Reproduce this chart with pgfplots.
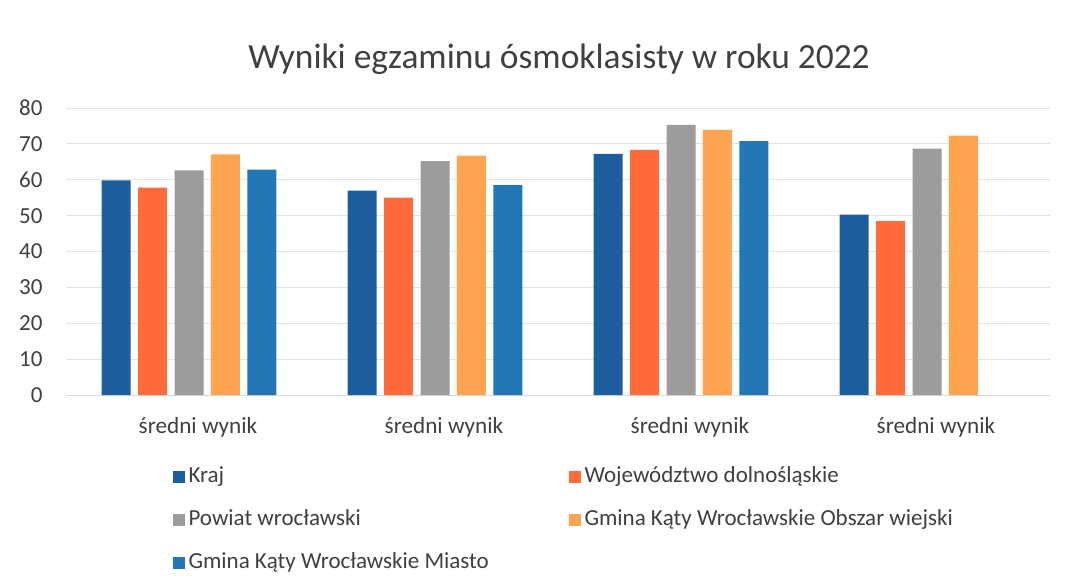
\documentclass[border=0pt]{standalone}
\usepackage{pgfplots}
\pgfplotsset{compat=1.18}
\usepackage{fontspec}
\setmainfont{Carlito}
\definecolor{kraj}{HTML}{1D5E9E}
\definecolor{woj}{HTML}{FF6B3B}
\definecolor{pow}{HTML}{9C9C9C}
\definecolor{obs}{HTML}{FFA552}
\definecolor{mia}{HTML}{2377B6}
\definecolor{txt}{HTML}{404040}
\begin{document}
\begin{tikzpicture}[x=1pt,y=1pt]
\useasboundingbox (0,0) rectangle (1091,587);
\fill[white] (0,0) rectangle (1091,587);
\node[font=\fontsize{35.4}{42}\selectfont, text=txt] at (559,528) {Wyniki egzaminu ósmoklasisty w roku 2022};
\begin{axis}[
  at={(66pt,192pt)}, anchor=south west,
  scale only axis, width=984pt, height=287pt,
  xmin=-0.5, xmax=3.5, ymin=0, ymax=80,
  ytick={0,10,...,80},
  xtick={0,1,2,3},
  xticklabels={średni wynik,średni wynik,średni wynik,średni wynik},
  ymajorgrids, grid style={gray!22, line width=0.8pt},
  axis x line*=bottom, axis y line*=left,
  y axis line style={draw=none},
  x axis line style={draw=gray!30, line width=0.8pt, -},
  major tick length=0pt,
  /pgf/number format/assume math mode=true,
  tick label style={font=\fontsize{23}{27}\selectfont, text=txt},
  yticklabel style={xshift=-20pt},
  xticklabel style={yshift=-19pt, xshift=9pt, font=\fontsize{23.2}{27}\selectfont},
  ybar=7.4pt, bar width=29pt,
  legend columns=2,
  legend cell align=left,
  legend style={draw=none, fill=none, at={(0.105,-0.238)}, anchor=north west,
    font=\fontsize{23}{27}\selectfont, text=txt,
    nodes={inner sep=0pt, text height=17pt, text depth=5pt},
    row sep=21pt,
    /tikz/every odd column/.append style={column sep=4pt}},
  legend image code/.code={\fill[#1] (0pt,-6pt) rectangle (12pt,6pt);},
]
\addplot[fill=kraj, draw=none] coordinates {(0,59.8) (1,57.0) (2,67.2) (3,50.3)};
\addlegendentry{\makebox[380pt][l]{Kraj}}
\addplot[fill=woj, draw=none] coordinates {(0,57.8) (1,55.0) (2,68.3) (3,48.5)};
\addlegendentry{Województwo dolnośląskie}
\addplot[fill=pow, draw=none] coordinates {(0,62.6) (1,65.2) (2,75.3) (3,68.7)};
\addlegendentry{\makebox[380pt][l]{Powiat wrocławski}}
\addplot[fill=obs, draw=none] coordinates {(0,67.1) (1,66.7) (2,73.9) (3,72.3)};
\addlegendentry{Gmina Kąty Wrocławskie Obszar wiejski}
\addplot[fill=mia, draw=none] coordinates {(0,62.8) (1,58.5) (2,70.8)};
\addlegendentry{\makebox[380pt][l]{Gmina Kąty Wrocławskie Miasto}}
\end{axis}
\end{tikzpicture}
\end{document}
